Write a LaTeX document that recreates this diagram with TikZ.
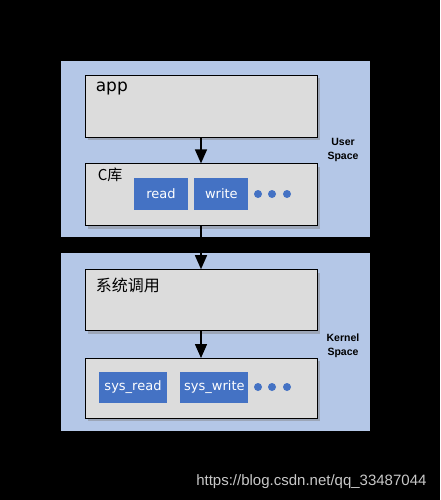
\documentclass[tikz,border=0pt]{standalone}
\usepackage{fontspec}
\setmainfont{DejaVu Sans}
\newfontfamily\cjk{Noto Sans CJK SC}
\newfontfamily\lblfont{Liberation Sans}
\usetikzlibrary{arrows.meta,positioning,shadows}
\definecolor{panelblue}{RGB}{180,199,231}
\definecolor{boxgray}{RGB}{220,220,220}
\definecolor{funcblue}{RGB}{68,114,196}
\definecolor{urlgray}{RGB}{200,200,200}

\begin{document}
\begin{tikzpicture}[
  x=1pt, y=-1pt,
  panel/.style={rectangle, fill=panelblue, inner sep=0pt},
  block/.style={rectangle, draw, line width=0.8pt, fill=boxgray,
    minimum width=232pt, inner sep=0pt,
    drop shadow={shadow xshift=3pt, shadow yshift=-3pt, opacity=0.45}},
  boxtitle/.style={anchor=base west, inner sep=0pt},
  func/.style={rectangle, fill=funcblue, text=white, minimum height=32pt,
    inner sep=0pt, font=\fontsize{13}{15}\selectfont},
  fdot/.style={circle, fill=funcblue, minimum size=8pt, inner sep=0pt},
  spacelbl/.style={align=center, font=\lblfont\bfseries\fontsize{10.5}{14}\selectfont},
  arr/.style={-{Triangle[length=14pt,width=12pt]}, line width=1.5pt}
]
\useasboundingbox (0,0) rectangle (440,500);
\fill[black] (0,0) rectangle (440,500);

% Spaces
\node[panel, minimum width=309pt, minimum height=176pt] (userspace) at (215.5,149) {};
\node[panel, minimum width=309pt, minimum height=178pt] (kernelspace) at (215.5,342) {};

% Layers
\node[block, minimum height=62pt] (app) at (201,106) {};
\node[block, minimum height=62pt, below=26pt of app] (clib) {};
\node[block, minimum height=61pt, below=43pt of clib] (syscall) {};
\node[block, minimum height=60pt, below=27pt of syscall] (sysfunc) {};

\node[boxtitle, font=\fontsize{17}{20}\selectfont] (apptitle) at ([xshift=11pt,yshift=-17pt]app.north west) {app};
\node[boxtitle, font=\cjk\fontsize{15}{18}\selectfont] (clibtitle) at ([xshift=13pt,yshift=-17pt]clib.north west) {C库};
\node[boxtitle, font=\cjk\fontsize{16}{19}\selectfont] (syscalltitle) at ([xshift=11pt,yshift=-22pt]syscall.north west) {系统调用};

% Functions
\node[func, minimum width=54pt] (read) at (161,194) {read};
\node[func, minimum width=54pt, right=6pt of read] (write) {write};
\node[func, minimum width=68pt, minimum height=31pt] (sysread) at (133,387.5) {sys\_read};
\node[func, minimum width=68pt, minimum height=31pt, right=13pt of sysread] (syswrite) {sys\_write};

\foreach \i/\x in {1/258,2/272,3/287} {
  \node[fdot] (udot\i) at (\x,194) {};
  \node[fdot] (kdot\i) at (\x,387) {};
}

% Labels
\node[spacelbl] (userlbl) at (343,150) {User\\Space};
\node[spacelbl] (kernellbl) at (343,346) {Kernel\\Space};

\draw[arr] (app) -- (clib);
\draw[arr] (clib) -- (syscall);
\draw[arr] (syscall) -- (sysfunc);

\node[font=\lblfont\fontsize{15}{18}\selectfont, text=urlgray, anchor=east] (url) at (430,482) {https://blog.csdn.net/qq\_33487044};

\end{tikzpicture}
\end{document}
